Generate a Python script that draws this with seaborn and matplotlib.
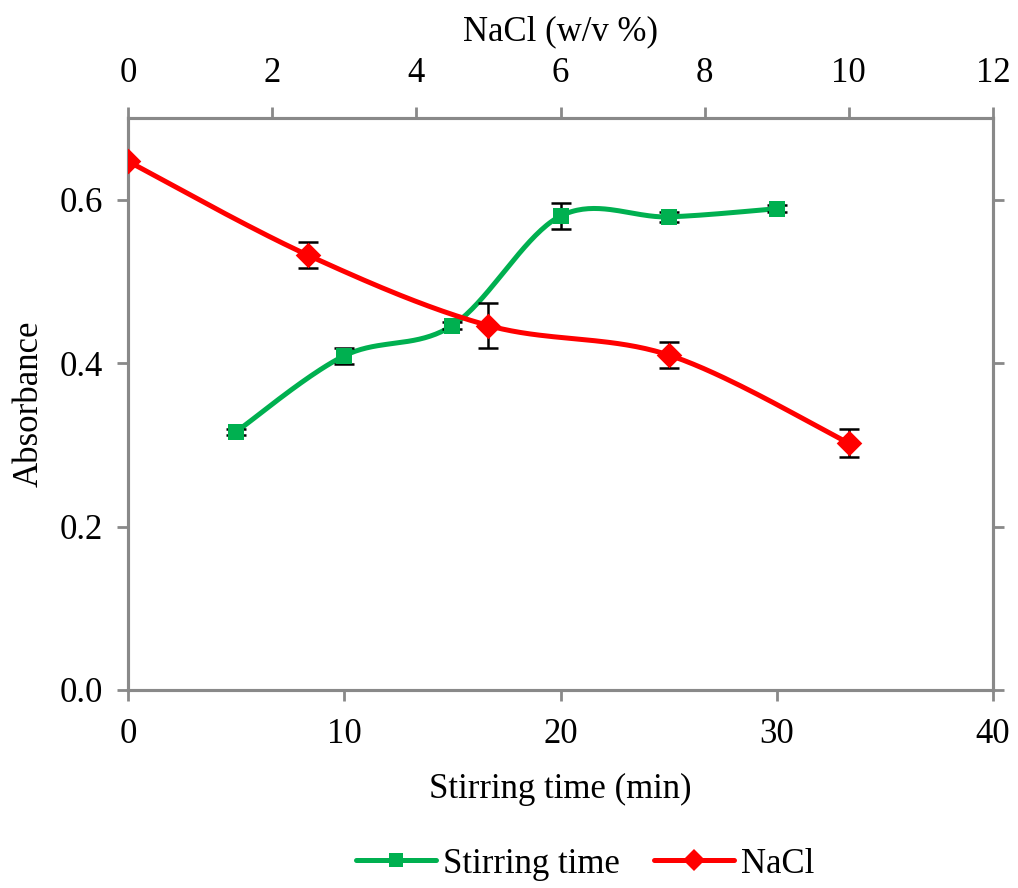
import numpy as np
import matplotlib
matplotlib.use("Agg")
import matplotlib.pyplot as plt
import seaborn as sns
from matplotlib.lines import Line2D

# ---- data ----
stir_time = [5, 10, 15, 20, 25, 30]
stir_abs = [0.316, 0.409, 0.446, 0.580, 0.579, 0.589]
stir_err = [0.004, 0.010, 0.004, 0.016, 0.006, 0.004]

nacl_conc = [0, 2.5, 5, 7.5, 10]
nacl_abs = [0.647, 0.532, 0.446, 0.410, 0.302]
nacl_err = [0.0, 0.016, 0.027, 0.016, 0.017]

x_bottom_ticks = [0, 10, 20, 30, 40]
x_top_ticks = [0, 2, 4, 6, 8, 10, 12]
y_ticks = [0.0, 0.2, 0.4, 0.6]

GREEN = "#00B050"
RED = "#FF0000"
SPINE = "#898989"
FS = 25

sns.set_theme(style="white")
plt.rcParams["font.family"] = ["Liberation Serif", "DejaVu Serif"]
plt.rcParams["text.color"] = "black"
plt.rcParams["axes.labelcolor"] = "black"


def smooth(x, y, xspan, yspan, n=40):
    """Excel-like smoothed line (Catmull-Rom Bezier) computed in normalized space."""
    px = np.asarray(x, float) / xspan
    py = np.asarray(y, float) / yspan
    P = np.column_stack([px, py])
    out = []
    m = len(P)
    for i in range(m - 1):
        p0 = P[i - 1] if i > 0 else P[i]
        p1 = P[i]
        p2 = P[i + 1]
        p3 = P[i + 2] if i + 2 < m else P[i + 1]
        c1 = p1 + (p2 - p0) / 6.0
        c2 = p2 - (p3 - p1) / 6.0
        t = np.linspace(0, 1, n)[:, None]
        seg = ((1 - t) ** 3) * p1 + 3 * ((1 - t) ** 2) * t * c1 + 3 * (1 - t) * t ** 2 * c2 + t ** 3 * p2
        out.append(seg if i == 0 else seg[1:])
    out = np.vstack(out)
    return out[:, 0] * xspan, out[:, 1] * yspan


W, H = 1018, 888
fig = plt.figure(figsize=(W / 100, H / 100), dpi=100)
L, R, T, B = 128, 993, 118, 690
ax = fig.add_axes([L / W, 1 - B / H, (R - L) / W, (B - T) / H])
ax2 = ax.twiny()

xw, yh = (R - L), (B - T)

# stirring time series (bottom axis)
sx, sy = smooth(stir_time, stir_abs, 40 / xw, 0.7 / yh)
ax.plot(sx, sy, color=GREEN, lw=3.6, zorder=2, solid_capstyle="round")
ax.errorbar(stir_time, stir_abs, yerr=stir_err, fmt="none", ecolor="black",
            elinewidth=1.8, capsize=7, capthick=1.8, zorder=3)
sns.scatterplot(x=stir_time, y=stir_abs, ax=ax, marker="s", s=140, color=GREEN,
                edgecolor=GREEN, linewidth=0, zorder=4, legend=False)

# NaCl series (top axis)
nx, ny = smooth(nacl_conc, nacl_abs, 12 / xw, 0.7 / yh)
ax2.plot(nx, ny, color=RED, lw=3.6, zorder=2, solid_capstyle="round")
ax2.errorbar(nacl_conc, nacl_abs, yerr=nacl_err, fmt="none", ecolor="black",
             elinewidth=1.8, capsize=7, capthick=1.8, zorder=3)
sns.scatterplot(x=nacl_conc, y=nacl_abs, ax=ax2, marker="D", s=170, color=RED,
                edgecolor=RED, linewidth=0, zorder=4, legend=False)

ax.set_xlim(0, 40)
ax.set_ylim(0, 0.7)
ax2.set_xlim(0, 12)
ax.set_xticks(x_bottom_ticks)
ax.set_yticks(y_ticks)
ax.set_yticklabels([f"{v:.1f}" for v in y_ticks])
ax2.set_xticks(x_top_ticks)

for a in (ax, ax2):
    for s in a.spines.values():
        s.set_color(SPINE)
        s.set_linewidth(2.2)
        s.set_visible(True)

ax.tick_params(axis="both", direction="out", length=8, width=2, color=SPINE,
               labelsize=FS, labelcolor="black", pad=8)
ax.tick_params(axis="x", pad=12)
ax.tick_params(axis="y", right=True, left=True, labelright=False, pad=10)
ax.tick_params(axis="x", bottom=True, top=False)
ax2.tick_params(axis="x", direction="out", length=8, width=2, color=SPINE,
                labelsize=FS, labelcolor="black", pad=12, top=True)

ax.set_xlabel("Stirring time (min)", fontsize=FS, labelpad=16, color="black")
ax.set_ylabel("Absorbance", fontsize=FS, labelpad=10, color="black")
ax2.set_xlabel("NaCl (w/v %)", fontsize=FS, labelpad=12, color="black")
ax.grid(False)
ax2.grid(False)

handles = [
    Line2D([], [], color=GREEN, lw=3.6, marker="s", markersize=10, markeredgewidth=0),
    Line2D([], [], color=RED, lw=3.6, marker="D", markersize=11, markeredgewidth=0),
]
leg = fig.legend(handles, ["Stirring time", "NaCl"], loc="center", bbox_to_anchor=(0.575, 1 - 864 / H),
                 ncol=2, frameon=False, fontsize=FS, handlelength=2.3, handletextpad=0.2,
                 columnspacing=1.0)
for t in leg.get_texts():
    t.set_color("black")

fig.savefig("out.png", dpi=100)
